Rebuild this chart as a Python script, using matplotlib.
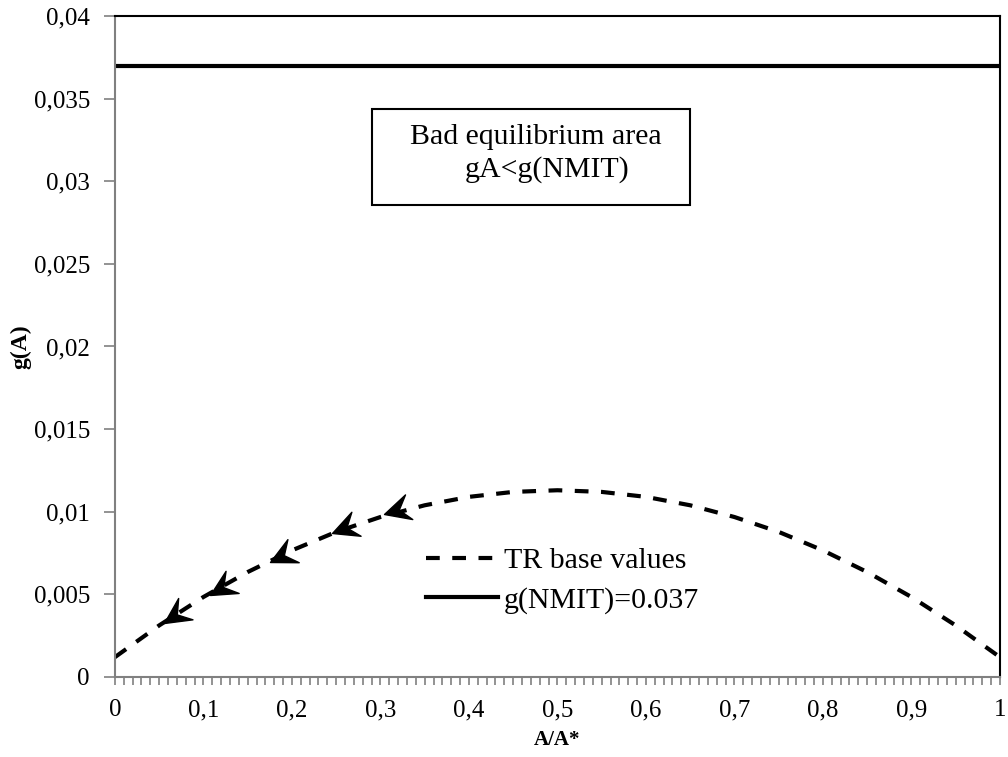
import numpy as np
import matplotlib
matplotlib.use("Agg")
import matplotlib.pyplot as plt
from matplotlib.markers import MarkerStyle
from matplotlib.path import Path
from matplotlib.patches import Rectangle
from matplotlib.transforms import Affine2D

plt.rcParams['font.family'] = ['Liberation Serif', 'DejaVu Serif']

# TR base values
x_vals = [0.0, 0.05, 0.1, 0.15, 0.2, 0.25, 0.3, 0.35, 0.4, 0.45, 0.5,
          0.55, 0.6, 0.65, 0.7, 0.75, 0.8, 0.85, 0.9, 0.95, 1.0]
g_vals = [0.0012, 0.00312, 0.00484, 0.00635, 0.00766, 0.00878, 0.00968,
          0.01039, 0.0109, 0.0112, 0.0113, 0.0112, 0.0109, 0.01039,
          0.00968, 0.00878, 0.00766, 0.00635, 0.00484, 0.00312, 0.0012]
g_nmit = 0.037

# arrow heads along the curve
arrow_x = [0.055, 0.107, 0.175, 0.245, 0.304]
arrow_y = [0.00327, 0.00496, 0.00696, 0.00871, 0.00986]

fig = plt.figure(figsize=(10.08, 7.57), dpi=100)
ax = fig.add_axes([0.114, 0.1057, 0.878, 0.8732])

ax.plot(x_vals, g_vals, color='black', lw=3, linestyle=(0, (3.3, 3.0)),
        label='TR base values')
ax.plot([0, 1], [g_nmit, g_nmit], color='black', lw=3, label='g(NMIT)=0.037')

ax.set_xlim(0, 1)
ax.set_ylim(0, 0.04)
ax.set_xticks(np.arange(0, 1.01, 0.1))
ax.set_xticks(np.arange(0, 1.001, 0.01), minor=True)
ax.set_yticks(np.arange(0, 0.0401, 0.005))
ax.set_xticklabels(['0', '0,1', '0,2', '0,3', '0,4', '0,5', '0,6', '0,7', '0,8', '0,9', '1'])
ax.set_yticklabels(['0', '0,005', '0,01', '0,015', '0,02', '0,025', '0,03', '0,035', '0,04'])
ax.tick_params(axis='both', which='both', direction='out', colors='#808080',
               labelcolor='black', labelsize=18, width=1.2)
ax.tick_params(axis='x', which='both', length=6, pad=10)
ax.tick_params(axis='y', length=8, pad=10)

for s in ['left', 'bottom']:
    ax.spines[s].set_color('#808080')
    ax.spines[s].set_linewidth(1.5)
for s in ['top', 'right']:
    ax.spines[s].set_color('black')
    ax.spines[s].set_linewidth(1.5)

ax.set_xlabel('A/A*', fontsize=15, fontweight='bold', labelpad=6)
ax.set_ylabel('g(A)', fontsize=17, fontweight='bold', va='center')
ax.yaxis.set_label_coords(-0.106, 0.5)

# stealth style arrow heads, rotated along the curve towards lower x
head = Path([(0, 0), (-1, 0.5), (-0.6, 0), (-1, -0.5), (0, 0)],
            [Path.MOVETO, Path.LINETO, Path.LINETO, Path.LINETO, Path.CLOSEPOLY])
slope = np.gradient(np.array(g_vals), np.array(x_vals))
sx = ax.bbox.width / 1.0
sy = ax.bbox.height / 0.04
for xa, ya in zip(arrow_x, arrow_y):
    k = np.interp(xa, x_vals, slope)
    ang = np.degrees(np.arctan2(-k * sy, -sx))
    m = MarkerStyle(head, transform=Affine2D().rotate_deg(ang))
    ax.plot(xa, ya, marker=m, markersize=37, color='black', linestyle='none')

# text box
ax.add_patch(Rectangle((0.290, 0.02856), 0.360, 0.00581, fill=False,
                       ec='black', lw=1.5))
ax.text(0.4757, 0.03268, 'Bad equilibrium area', fontsize=21.5, ha='center', va='center')
ax.text(0.488, 0.03068, 'gA<g(NMIT)', fontsize=21.5, ha='center', va='center')

ax.legend(loc='upper left', bbox_to_anchor=(0.338, 0.214), frameon=False,
          fontsize=21.5, handlelength=2.4, handletextpad=0.2, labelspacing=0.42,
          borderaxespad=0)

fig.savefig('out.png', dpi=100)
